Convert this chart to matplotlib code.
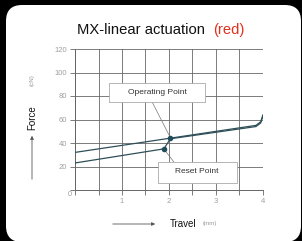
import matplotlib
matplotlib.use("Agg")
import matplotlib.pyplot as plt
from matplotlib.patches import FancyBboxPatch, Rectangle, FancyArrowPatch
from matplotlib.transforms import IdentityTransform

plt.rcParams['font.family'] = ['Liberation Sans', 'DejaVu Sans']

# Data
press_travel = [0.0, 3.85, 3.95, 4.0]
press_force = [32.0, 55.0, 58.0, 64.0]
release_travel = [4.0, 3.95, 3.85, 2.03, 1.89, 0.0]
release_force = [63.0, 57.0, 54.0, 43.6, 35.0, 23.0]
operating_point = (2.03, 44.5)
reset_point = (1.89, 35.0)
x_ticks = [1, 2, 3, 4]
y_ticks = [20, 40, 60, 80, 100, 120]

W, H = 302, 241
fig = plt.figure(figsize=(W / 100, H / 100), dpi=100)
fig.patch.set_facecolor('black')

# white rounded card (pixel coordinates, origin bottom-left)
card = FancyBboxPatch((6, -1), 295, 237,
                      boxstyle="round,pad=0,rounding_size=16",
                      transform=IdentityTransform(), facecolor='white',
                      edgecolor='none', zorder=-5)
fig.patches.append(card)

ax = fig.add_axes([75 / W, (H - 190) / H, 188 / W, 141 / H])
ax.set_zorder(2)
ax.set_facecolor('none')
ax.set_xlim(0, 4)
ax.set_ylim(0, 120)

gc = '#666666'
ax.set_xticks([i * 0.5 for i in range(9)])
ax.set_xticklabels(['' if (i % 2 or i == 0) else str(x_ticks[i // 2 - 1]) for i in range(9)])
ax.set_yticks([0] + y_ticks)
ax.set_yticklabels([''] + [str(v) for v in y_ticks])
ax.tick_params(axis='both', colors=gc, labelcolor='#a0a0a0', labelsize=5.5,
               length=3.5, width=0.6, pad=2)
ax.grid(True, color=gc, linewidth=0.6)
for s in ax.spines.values():
    s.set_color(gc)
    s.set_linewidth(0.7)
ax.spines['top'].set_visible(False)
ax.spines['right'].set_visible(False)

line_c = '#2f4f58'
ax.plot(press_travel, press_force, color=line_c, lw=0.9, zorder=4)
ax.plot(release_travel, release_force, color=line_c, lw=0.9, zorder=4)
ax.plot(*operating_point, 'o', color='#1f4d5c', ms=3, zorder=5)
ax.plot(*reset_point, 'o', color='#1f4d5c', ms=3, zorder=5)

# callouts
ax.plot([1.64, operating_point[0]], [75, operating_point[1]], color='#777777', lw=0.5, zorder=3)
ax.plot([reset_point[0], 2.1], [reset_point[1], 24], color='#777777', lw=0.5, zorder=3)
ax.add_patch(Rectangle((0.72, 75), 2.05, 16, facecolor='white', edgecolor='#aaaaaa',
                       lw=0.6, zorder=3))
ax.text(1.745, 83, 'Operating Point', ha='center', va='center', fontsize=6,
        color='#333333', zorder=6)
ax.add_patch(Rectangle((1.77, 6), 1.68, 17.8, facecolor='white', edgecolor='#aaaaaa',
                       lw=0.6, zorder=3))
ax.text(2.6, 15.5, 'Reset Point', ha='center', va='center', fontsize=6,
        color='#333333', zorder=6)

# origin label
fig.text(70 / W, 1 - 195 / H, '0', ha='center', va='center', fontsize=5.5, color='#a0a0a0')

# title
fig.text(77 / W, 1 - 30 / H, 'MX-linear actuation', ha='left', va='center',
         fontsize=10.6, color='#111111')
fig.text(213 / W, 1 - 30 / H, '(red)', ha='left', va='center',
         fontsize=10.6, color='#e0301e')

# y label
fig.text(32 / W, 1 - 118 / H, 'Force', rotation=90, ha='center', va='center',
         fontsize=7, color='#111111')
fig.text(32 / W, 1 - 80 / H, '(cN)', rotation=90, ha='center', va='center',
         fontsize=4.5, color='#999999')
fig.patches.append(FancyArrowPatch(
    (32 / W, 1 - 182 / H), (32 / W, 1 - 133 / H), transform=fig.transFigure,
    arrowstyle='-|>,head_length=2,head_width=1', color='#555555', lw=0.6))

# x label
fig.text(170 / W, 1 - 224 / H, 'Travel', ha='left', va='center',
         fontsize=7, color='#111111')
fig.text(203 / W, 1 - 224 / H, '(mm)', ha='left', va='center',
         fontsize=4.5, color='#999999')
fig.patches.append(FancyArrowPatch(
    (110 / W, 1 - 224 / H), (158 / W, 1 - 224 / H), transform=fig.transFigure,
    arrowstyle='-|>,head_length=2,head_width=1', color='#555555', lw=0.6))

fig.savefig('out.png', dpi=100, facecolor='black')
